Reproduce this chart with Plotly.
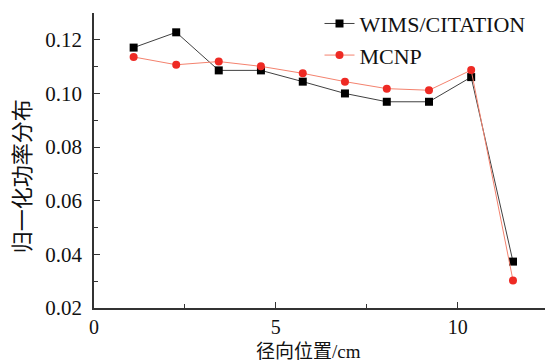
import plotly.graph_objects as go

x_pos = [1.09, 2.26, 3.43, 4.59, 5.74, 6.90, 8.05, 9.21, 10.37, 11.52]
wims = [0.1171, 0.1228, 0.1086, 0.1086, 0.1044, 0.1000, 0.0969, 0.0969, 0.1061, 0.0373]
mcnp = [0.1136, 0.1107, 0.1119, 0.1101, 0.1075, 0.1044, 0.1018, 0.1012, 0.1087, 0.0303]
series_names = ["WIMS/CITATION", "MCNP"]
x_title = "径向位置/cm"
y_title = "归一化功率分布"

serif = "Liberation Serif, Noto Sans CJK SC, serif"

fig = go.Figure()
fig.add_trace(go.Scatter(
    x=x_pos, y=wims, name=series_names[0], mode="lines+markers",
    line=dict(color="#404040", width=1),
    marker=dict(symbol="square", size=8, color="#000000"),
))
fig.add_trace(go.Scatter(
    x=x_pos, y=mcnp, name=series_names[1], mode="lines+markers",
    line=dict(color="#f4826e", width=1),
    marker=dict(symbol="circle", size=8, color="#ee2a24"),
))

axis_common = dict(
    showline=True, linecolor="#333333", linewidth=1.5,
    ticks="inside", ticklen=6, tickwidth=1.2, tickcolor="#333333",
    showgrid=False, zeroline=False,
)
fig.update_xaxes(
    range=[0, 12.4], tickmode="linear", tick0=0, dtick=5,
    minor=dict(ticks="inside", ticklen=4, dtick=2.5, tickcolor="#333333", showgrid=False),
    ticklabelstandoff=0,
    tickfont=dict(family=serif, size=20, color="#111111"),
    **axis_common,
)
fig.update_yaxes(
    range=[0.02, 0.13], tickmode="linear", tick0=0.02, dtick=0.02, tickformat=".2f",
    minor=dict(ticks="inside", ticklen=4, dtick=0.01, tickcolor="#333333", showgrid=False),
    ticklabelstandoff=6,
    tickfont=dict(family=serif, size=21, color="#111111"),
    **axis_common,
)

fig.add_annotation(
    text=x_title, xref="paper", yref="paper", x=0.4767, y=-0.148,
    xanchor="center", yanchor="middle", showarrow=False,
    font=dict(family=serif, size=19, color="#111111"),
)
fig.add_annotation(
    text=y_title, xref="paper", yref="paper", x=-0.157, y=0.4476,
    xanchor="center", yanchor="middle", showarrow=False, textangle=-90,
    font=dict(family=serif, size=22, color="#111111"),
)

fig.update_layout(
    width=545, height=362,
    margin=dict(l=94, r=0, t=13, b=54),
    plot_bgcolor="white", paper_bgcolor="white",
    showlegend=True,
    legend=dict(
        x=0.50, y=1.035, xanchor="left", yanchor="top",
        bgcolor="rgba(0,0,0,0)", borderwidth=0,
        font=dict(family=serif, size=22, color="#111111"),
        tracegroupgap=0, itemwidth=30,
    ),
)

fig.write_html("out.html")
